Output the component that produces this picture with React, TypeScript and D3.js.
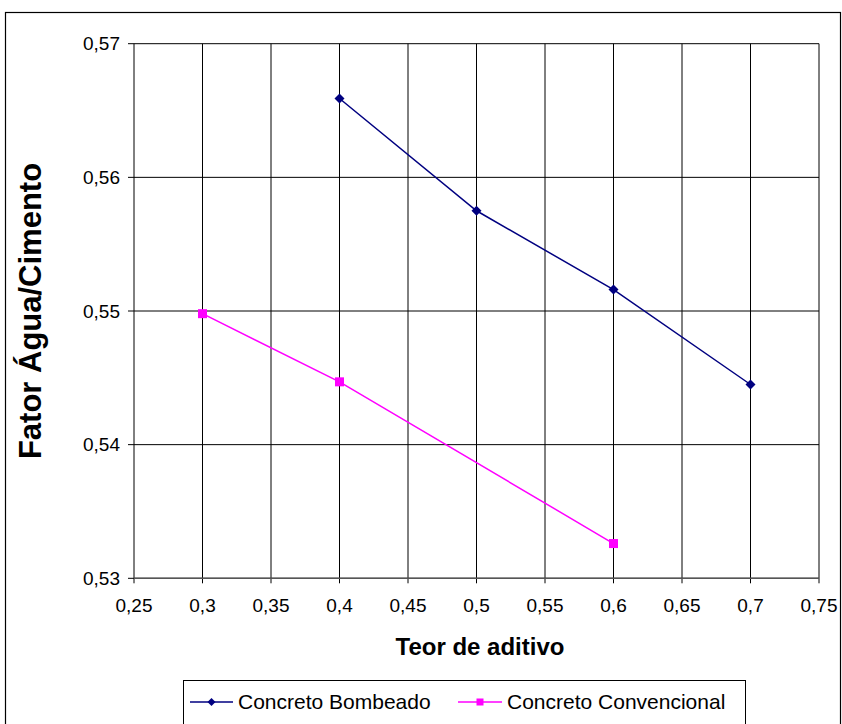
import React from "react";
import * as d3 from "d3";

const xTicks = [0.25, 0.3, 0.35, 0.4, 0.45, 0.5, 0.55, 0.6, 0.65, 0.7, 0.75];
const yTicks = [0.53, 0.54, 0.55, 0.56, 0.57];

const bombeadoX = [0.4, 0.5, 0.6, 0.7];
const bombeadoY = [0.5659, 0.5575, 0.5516, 0.5445];

const convencionalX = [0.3, 0.4, 0.6];
const convencionalY = [0.5498, 0.5447, 0.5326];

const fmt = (v: number) => String(+v.toFixed(2)).replace(".", ",");

const FONT = "'Liberation Sans', Arial, sans-serif";

export default function App() {
  const W = 842;
  const H = 724;
  const left = 134;
  const right = 819;
  const top = 43.7;
  const bottom = 578.3;

  const x = d3.scaleLinear().domain([0.25, 0.75]).range([left, right]);
  const y = d3.scaleLinear().domain([0.53, 0.57]).range([bottom, top]);

  const line = d3
    .line<[number, number]>()
    .x((d) => x(d[0]))
    .y((d) => y(d[1]));

  const bPts: [number, number][] = bombeadoX.map((v, i) => [v, bombeadoY[i]]);
  const cPts: [number, number][] = convencionalX.map((v, i) => [v, convencionalY[i]]);

  const navy = "#000080";
  const pink = "#FF00FF";

  const diamond = (cx: number, cy: number, r: number) =>
    `M${cx},${cy - r}L${cx + r},${cy}L${cx},${cy + r}L${cx - r},${cy}Z`;

  return (
    <svg
      width={W}
      height={H}
      style={{ position: "absolute", left: 0, top: 0, background: "#fff" }}
      fontFamily={FONT}
    >
      <rect x={5.5} y={12.5} width={835} height={720} fill="none" stroke="#000" strokeWidth={1.2} />

      {/* grid */}
      {xTicks.map((t) => (
        <line key={"gx" + t} x1={x(t)} x2={x(t)} y1={top} y2={bottom + 5} stroke="#000" strokeWidth={1} />
      ))}
      {yTicks.map((t) => (
        <line key={"gy" + t} x1={left - 6} x2={right} y1={y(t)} y2={y(t)} stroke="#000" strokeWidth={1} />
      ))}
      <line x1={left} x2={right} y1={bottom} y2={bottom} stroke="#555" strokeWidth={1.6} />

      {/* tick labels */}
      {yTicks.map((t) => (
        <text key={"ly" + t} x={120} y={y(t)} dy="0.35em" textAnchor="end" fontSize={19} fill="#000">
          {fmt(t)}
        </text>
      ))}
      {xTicks.map((t) => (
        <text key={"lx" + t} x={x(t)} y={605} dy="0.35em" textAnchor="middle" fontSize={19} fill="#000">
          {fmt(t)}
        </text>
      ))}

      {/* axis titles */}
      <text x={480} y={647} dy="0.35em" textAnchor="middle" fontSize={24} fontWeight="bold">
        Teor de aditivo
      </text>
      <text
        transform={`translate(30,${(top + bottom) / 2}) rotate(-90)`}
        dy="0.35em"
        textAnchor="middle"
        fontSize={31}
        fontWeight="bold"
      >
        Fator Água/Cimento
      </text>

      {/* series */}
      <path d={line(bPts) ?? ""} fill="none" stroke={navy} strokeWidth={1.5} />
      {bPts.map((p, i) => (
        <path key={"bm" + i} d={diamond(x(p[0]), y(p[1]), 5)} fill={navy} />
      ))}
      <path d={line(cPts) ?? ""} fill="none" stroke={pink} strokeWidth={1.5} />
      {cPts.map((p, i) => (
        <rect key={"cm" + i} x={x(p[0]) - 4.5} y={y(p[1]) - 4.5} width={9} height={9} fill={pink} />
      ))}

      {/* legend */}
      <rect x={183.5} y={680.5} width={562} height={44} fill="#fff" stroke="#000" strokeWidth={1} />
      <line x1={190} x2={233} y1={702} y2={702} stroke={navy} strokeWidth={1.5} />
      <path d={diamond(211.5, 702, 4)} fill={navy} />
      <text x={238} y={702} dy="0.35em" fontSize={21}>
        Concreto Bombeado
      </text>
      <line x1={458} x2={502} y1={702} y2={702} stroke={pink} strokeWidth={1.5} />
      <rect x={476.5} y={698.5} width={7} height={7} fill={pink} />
      <text x={507} y={702} dy="0.35em" fontSize={21}>
        Concreto Convencional
      </text>
    </svg>
  );
}
